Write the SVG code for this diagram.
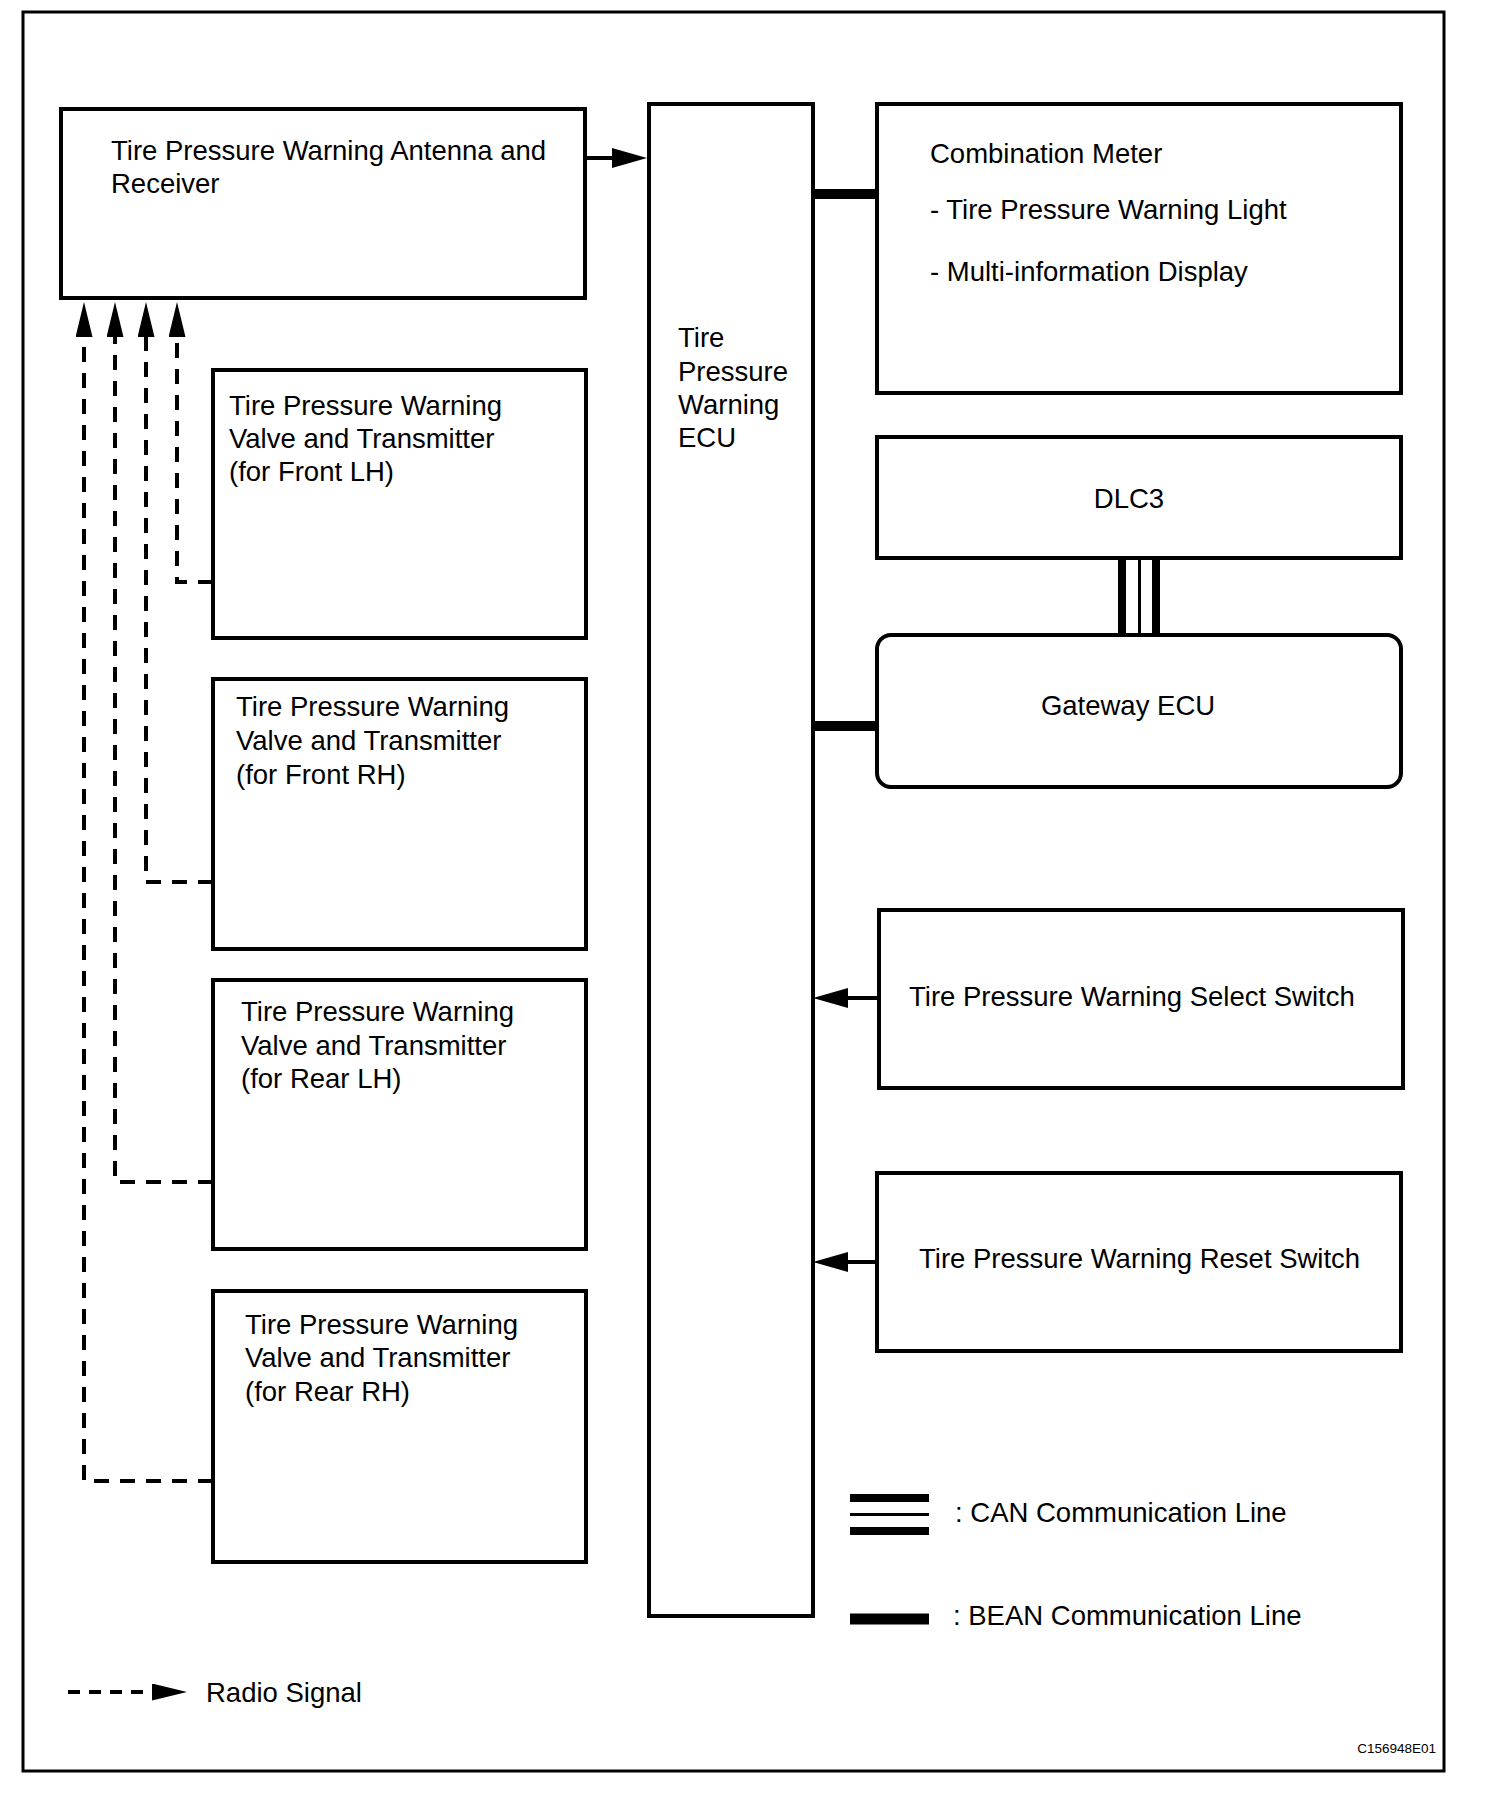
<svg xmlns="http://www.w3.org/2000/svg" width="1504" height="1800" viewBox="0 0 1504 1800">
<style>
.box{fill:#fff;stroke:#000;stroke-width:4}
.t{font-family:"Liberation Sans",Arial,sans-serif;font-size:27.5px;fill:#000}
.dash{fill:none;stroke:#000;stroke-width:4;stroke-dasharray:15 11}
.solid{fill:none;stroke:#000;stroke-width:4}
.bean{fill:none;stroke:#000;stroke-width:10}
</style>
<defs>
<marker id="ah" markerUnits="userSpaceOnUse" markerWidth="36" markerHeight="22" refX="0" refY="10" orient="auto">
<path d="M0,0 L35,10 L0,20 z" fill="#000"/>
</marker>
<marker id="ahs" markerUnits="userSpaceOnUse" markerWidth="36" markerHeight="18" refX="0" refY="8.5" orient="auto">
<path d="M0,0 L35,8.5 L0,17 z" fill="#000"/>
</marker>
</defs>
<rect x="0" y="0" width="1504" height="1800" fill="#fff"/>
<rect x="23" y="12" width="1421" height="1759" fill="none" stroke="#000" stroke-width="3"/>

<g id="connectors">
<path class="solid" d="M585 158 H612" marker-end="url(#ah)"/>
<path class="bean" d="M813 194 H877"/>
<path class="bean" d="M813 726 H877"/>
<line x1="1122" y1="558" x2="1122" y2="635" stroke="#000" stroke-width="8"/>
<line x1="1139.5" y1="558" x2="1139.5" y2="635" stroke="#000" stroke-width="3"/>
<line x1="1156" y1="558" x2="1156" y2="635" stroke="#000" stroke-width="8"/>
<path class="solid" d="M879 998 H848" marker-end="url(#ah)"/>
<path class="solid" d="M877 1262 H848" marker-end="url(#ah)"/>
<path class="dash" d="M213 582 H177 V337" marker-end="url(#ahs)"/>
<path class="dash" d="M213 882 H146 V337" marker-end="url(#ahs)"/>
<path class="dash" d="M213 1182 H115 V337" marker-end="url(#ahs)"/>
<path class="dash" d="M213 1481 H84 V337" marker-end="url(#ahs)"/>
</g>

<g id="antenna">
<rect class="box" x="61" y="109" width="524" height="189"/>
<text class="t" x="111" y="160">Tire Pressure Warning Antenna and</text>
<text class="t" x="111" y="193">Receiver</text>
</g>

<g id="ecu">
<rect class="box" x="649" y="104" width="164" height="1512"/>
<text class="t" x="678" y="347">Tire</text>
<text class="t" x="678" y="381">Pressure</text>
<text class="t" x="678" y="414">Warning</text>
<text class="t" x="678" y="447">ECU</text>
</g>

<g id="combination-meter">
<rect class="box" x="877" y="104" width="524" height="289"/>
<text class="t" x="930" y="163">Combination Meter</text>
<text class="t" x="930" y="219">- Tire Pressure Warning Light</text>
<text class="t" x="930" y="281">- Multi-information Display</text>
</g>

<g id="dlc3">
<rect class="box" x="877" y="437" width="524" height="121"/>
<text class="t" x="1129" y="508" text-anchor="middle">DLC3</text>
</g>

<g id="gateway">
<rect class="box" x="877" y="635" width="524" height="152" rx="14" ry="14"/>
<text class="t" x="1128" y="715" text-anchor="middle">Gateway ECU</text>
</g>

<g id="select-switch">
<rect class="box" x="879" y="910" width="524" height="178"/>
<text class="t" x="909" y="1006">Tire Pressure Warning Select Switch</text>
</g>

<g id="reset-switch">
<rect class="box" x="877" y="1173" width="524" height="178"/>
<text class="t" x="919" y="1268">Tire Pressure Warning Reset Switch</text>
</g>

<g id="valve-front-lh">
<rect class="box" x="213" y="370" width="373" height="268"/>
<text class="t" x="229" y="415">Tire Pressure Warning</text>
<text class="t" x="229" y="448">Valve and Transmitter</text>
<text class="t" x="229" y="481">(for Front LH)</text>
</g>

<g id="valve-front-rh">
<rect class="box" x="213" y="679" width="373" height="270"/>
<text class="t" x="236" y="716">Tire Pressure Warning</text>
<text class="t" x="236" y="750">Valve and Transmitter</text>
<text class="t" x="236" y="784">(for Front RH)</text>
</g>

<g id="valve-rear-lh">
<rect class="box" x="213" y="980" width="373" height="269"/>
<text class="t" x="241" y="1021">Tire Pressure Warning</text>
<text class="t" x="241" y="1055">Valve and Transmitter</text>
<text class="t" x="241" y="1088">(for Rear LH)</text>
</g>

<g id="valve-rear-rh">
<rect class="box" x="213" y="1291" width="373" height="271"/>
<text class="t" x="245" y="1334">Tire Pressure Warning</text>
<text class="t" x="245" y="1367">Valve and Transmitter</text>
<text class="t" x="245" y="1401">(for Rear RH)</text>
</g>

<g id="legend">
<line x1="850" y1="1498" x2="929" y2="1498" stroke="#000" stroke-width="8"/>
<line x1="850" y1="1514.5" x2="929" y2="1514.5" stroke="#000" stroke-width="3"/>
<line x1="850" y1="1531" x2="929" y2="1531" stroke="#000" stroke-width="8"/>
<text class="t" x="955" y="1522">: CAN Communication Line</text>
<line x1="850" y1="1619" x2="929" y2="1619" stroke="#000" stroke-width="11"/>
<text class="t" x="953" y="1625">: BEAN Communication Line</text>
<path d="M68 1692 H152" fill="none" stroke="#000" stroke-width="4" stroke-dasharray="12 9" marker-end="url(#ahs)"/>
<text class="t" x="206" y="1702">Radio Signal</text>
<text x="1436" y="1753" text-anchor="end" font-family="Liberation Sans, Arial, sans-serif" font-size="13.5" fill="#000">C156948E01</text>
</g>
</svg>
